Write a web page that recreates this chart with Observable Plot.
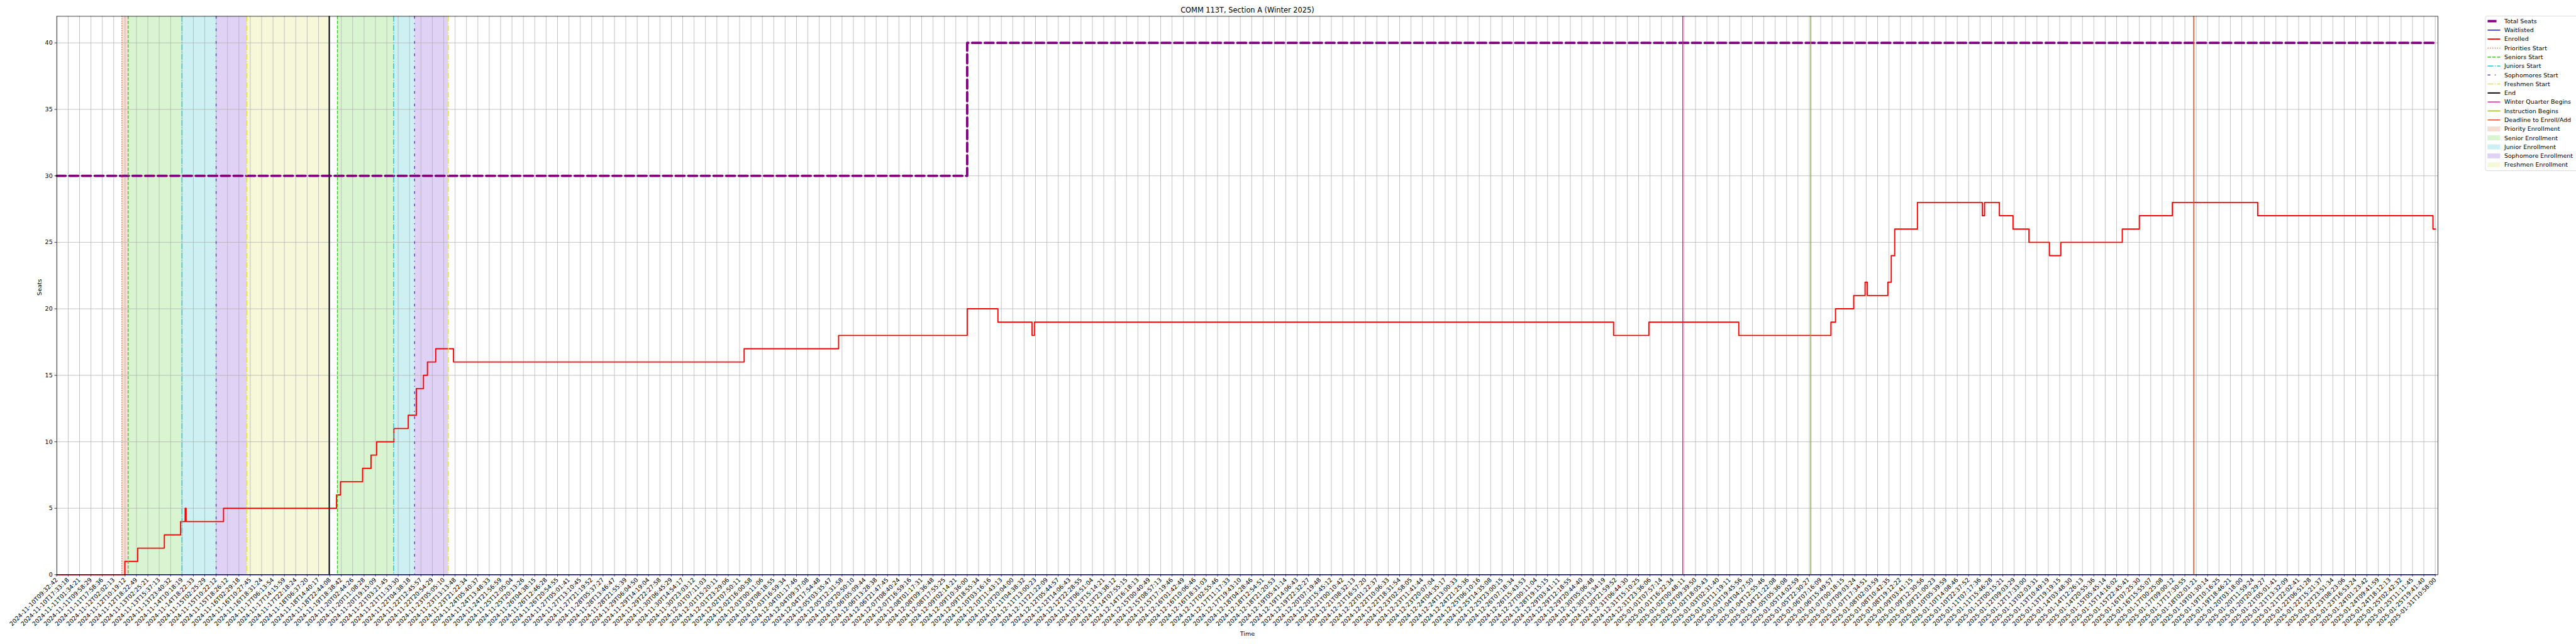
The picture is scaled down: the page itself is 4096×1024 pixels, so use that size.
<!DOCTYPE html>
<html><head><meta charset="utf-8">
<script src="https://cdn.jsdelivr.net/npm/d3@7"></script>
<script src="https://cdn.jsdelivr.net/npm/@observablehq/plot@0.6"></script>
<style>
html,body{margin:0;padding:0;background:#fff;}
#wrap{position:relative;width:4096px;height:1024px;overflow:hidden;font-family:"DejaVu Sans",sans-serif;}
#wrap svg{display:block}
#legend{position:absolute;left:0;top:0;}
</style></head><body><div id="wrap"></div>
<script>
// ---------------- data ----------------
const chartTitle = "COMM 113T, Section A (Winter 2025)";
const tickLabels = [
"2024-11-10T09:32:42","2024-11-10T17:33:18","2024-11-11T01:34:21","2024-11-11T09:58:29","2024-11-11T17:58:36",
"2024-11-12T02:02:13","2024-11-12T10:19:12","2024-11-12T18:22:49","2024-11-13T02:25:21","2024-11-13T15:37:13",
"2024-11-13T23:40:32","2024-11-14T10:18:19","2024-11-14T18:22:33","2024-11-15T02:25:29","2024-11-15T10:22:12",
"2024-11-15T18:26:12","2024-11-16T02:29:18","2024-11-16T10:27:45","2024-11-16T18:31:24","2024-11-17T06:13:54",
"2024-11-17T14:15:59","2024-11-17T22:18:24","2024-11-18T06:37:20","2024-11-18T14:40:17","2024-11-18T22:44:08",
"2024-11-19T18:38:42","2024-11-20T02:44:26","2024-11-20T11:08:28","2024-11-20T19:15:09","2024-11-21T03:21:45",
"2024-11-21T11:33:30","2024-11-22T04:38:18","2024-11-22T12:45:57","2024-11-22T20:54:29","2024-11-23T05:05:10",
"2024-11-23T13:13:48","2024-11-23T21:22:34","2024-11-24T05:40:37","2024-11-24T13:48:33","2024-11-24T21:56:59",
"2024-11-25T12:05:04","2024-11-25T20:13:26","2024-11-26T04:38:15","2024-11-26T12:46:28","2024-11-26T20:54:55",
"2024-11-27T05:01:41","2024-11-27T13:10:45","2024-11-27T21:19:52","2024-11-28T05:37:27","2024-11-28T13:46:47",
"2024-11-28T21:55:39","2024-11-29T06:04:50","2024-11-29T14:19:04","2024-11-29T22:27:58","2024-11-30T06:45:29",
"2024-11-30T14:54:17","2024-11-30T23:03:12","2024-12-01T07:11:03","2024-12-01T15:20:11","2024-12-01T23:29:06",
"2024-12-02T07:50:11","2024-12-02T16:00:58","2024-12-03T00:11:06","2024-12-03T08:18:55","2024-12-03T16:59:34",
"2024-12-04T01:17:46","2024-12-04T09:37:08","2024-12-04T17:54:48","2024-12-05T03:35:47","2024-12-05T12:31:58",
"2024-12-05T20:50:10","2024-12-06T05:09:44","2024-12-06T13:28:38","2024-12-06T21:47:45","2024-12-07T08:40:24",
"2024-12-07T16:59:16","2024-12-08T01:17:31","2024-12-08T09:36:48","2024-12-08T17:55:25","2024-12-09T02:14:21",
"2024-12-09T10:36:00","2024-12-09T18:55:34","2024-12-10T03:16:16","2024-12-10T11:43:13","2024-12-10T20:04:00",
"2024-12-11T04:38:32","2024-12-11T13:00:23","2024-12-11T21:22:09","2024-12-12T05:44:57","2024-12-12T14:06:43",
"2024-12-12T22:28:55","2024-12-13T06:51:04","2024-12-13T15:14:21","2024-12-13T23:38:12","2024-12-14T07:55:15",
"2024-12-14T16:18:13","2024-12-15T00:40:49","2024-12-15T08:57:13","2024-12-15T17:19:46","2024-12-16T01:42:49",
"2024-12-16T10:06:46","2024-12-16T18:31:03","2024-12-17T02:55:46","2024-12-17T11:17:33","2024-12-17T19:43:10",
"2024-12-18T04:28:46","2024-12-18T12:54:51","2024-12-18T21:20:53","2024-12-19T05:41:14","2024-12-19T14:06:43",
"2024-12-19T22:32:27","2024-12-20T07:19:48","2024-12-20T15:45:12","2024-12-21T00:10:42","2024-12-21T08:32:13",
"2024-12-21T16:57:20","2024-12-22T01:22:37","2024-12-22T10:06:33","2024-12-22T18:31:54","2024-12-23T02:58:05",
"2024-12-23T11:41:44","2024-12-23T20:07:04","2024-12-24T04:35:17","2024-12-24T13:00:33","2024-12-24T21:25:36",
"2024-12-25T06:10:16","2024-12-25T14:35:08","2024-12-25T23:00:15","2024-12-26T07:18:34","2024-12-26T15:43:53",
"2024-12-27T00:11:04","2024-12-28T19:15:15","2024-12-29T03:41:11","2024-12-29T12:18:55","2024-12-29T20:44:40",
"2024-12-30T05:06:48","2024-12-30T13:34:19","2024-12-30T21:59:52","2024-12-31T06:44:30","2024-12-31T15:10:25",
"2024-12-31T23:36:06","2025-01-01T07:57:14","2025-01-01T16:22:34","2025-01-02T00:48:11","2025-01-02T09:39:50",
"2025-01-02T18:05:43","2025-01-03T02:31:40","2025-01-03T11:19:11","2025-01-03T19:45:56","2025-01-04T04:27:50",
"2025-01-04T12:55:46","2025-01-04T21:22:08","2025-01-05T05:36:08","2025-01-05T14:02:59","2025-01-05T22:30:27",
"2025-01-06T07:16:09","2025-01-06T15:49:57","2025-01-07T00:18:15","2025-01-07T09:03:24","2025-01-07T17:34:51",
"2025-01-08T02:03:59","2025-01-08T10:42:35","2025-01-08T19:12:22","2025-01-09T03:41:15","2025-01-09T12:30:56",
"2025-01-09T21:00:23","2025-01-10T05:39:59","2025-01-10T14:08:46","2025-01-10T22:37:52","2025-01-11T07:17:36",
"2025-01-11T15:46:28","2025-01-12T00:15:21","2025-01-12T09:03:29","2025-01-12T17:33:00","2025-01-13T02:03:31",
"2025-01-13T10:49:19","2025-01-13T19:19:15","2025-01-14T03:48:30","2025-01-14T12:26:13","2025-01-14T20:55:36",
"2025-01-15T05:45:14","2025-01-15T14:16:02","2025-01-15T22:45:41","2025-01-16T07:25:30","2025-01-16T15:55:07",
"2025-01-17T00:25:08","2025-01-17T09:00:12","2025-01-17T17:30:55","2025-01-18T02:01:21","2025-01-19T01:30:14",
"2025-01-19T10:16:25","2025-01-19T18:46:21","2025-01-20T03:18:00","2025-01-20T11:59:24","2025-01-20T20:29:27",
"2025-01-21T05:01:41","2025-01-21T13:32:09","2025-01-21T22:02:41","2025-01-22T06:51:28","2025-01-22T15:21:37",
"2025-01-22T23:51:34","2025-01-23T08:23:06","2025-01-23T16:53:24","2025-01-24T01:23:42","2025-01-24T09:41:59",
"2025-01-24T18:12:13","2025-01-25T02:42:32","2025-01-25T11:11:45","2025-01-25T19:41:40","2025-01-31T10:58:00"
];
const yTicks = [0, 5, 10, 15, 20, 25, 30, 35, 40];

// x positions are in sample-axis units (tick index = category position)
const enrolledX = [0, 5.98, 7.11, 9.45, 10.88, 11.28, 11.36, 14.65, 24.58, 24.93, 26.87, 27.61, 28.11, 29.62, 30.88,
  31.59, 32.22, 32.57, 33.30, 34.86, 60.4, 68.7, 80.0, 82.7, 85.7, 85.9, 136.8, 139.9, 147.8, 155.9,
  156.3, 157.9, 158.9, 159.1, 160.9, 161.2, 161.5, 163.5, 169.2, 169.4, 170.7, 171.9, 173.3, 175.1, 176.1,
  181.5, 183.0, 185.9, 193.4, 208.8, 209];
const enrolledY = [0, 1, 2, 3, 4, 5, 4, 5, 6, 7, 8, 9, 10, 11, 12,
  14, 15, 16, 17, 16, 17, 18, 20, 19, 18, 19, 18, 19, 18, 19,
  20, 21, 22, 21, 22, 24, 26, 28, 27, 28, 27, 26, 25, 24, 25,
  26, 27, 28, 27, 26, 26];
const seatsX = [0, 80.0, 209];
const seatsY = [30, 40, 40];
const waitX = [0, 209];
const waitY = [0, 0];

const eventName = ["Priorities Start", "Seniors Start", "Juniors Start", "Sophomores Start", "Freshmen Start", "End",
  "Seniors Start", "Juniors Start", "Sophomores Start", "Freshmen Start",
  "Winter Quarter Begins", "Instruction Begins", "Deadline to Enroll/Add"];
const eventX = [5.72, 6.27, 11.0, 14.0, 16.7, 23.94, 24.66, 29.6, 31.44, 34.41, 142.88, 154.13, 187.78];

const spanName = ["Priority Enrollment", "Senior Enrollment", "Junior Enrollment", "Sophomore Enrollment",
  "Freshmen Enrollment", "Senior Enrollment", "Junior Enrollment", "Sophomore Enrollment"];
const spanStart = [5.72, 6.27, 11.0, 14.0, 16.7, 24.66, 29.6, 31.44];
const spanEnd = [6.27, 11.0, 14.0, 16.7, 23.94, 29.6, 31.44, 34.41];

// ---------------- styles ----------------
const S = 0.682;
const W = 4096, H = 1024;
const mL = 89.8, mR = W - 3876, mT = 25.4, mB = H - 913.4;
const fs = 9.5;
const lwEvent = 1.5 * 1.389 * S;
const eventStyle = {
  "Priorities Start": {stroke: "#ee6c30", dash: [1, 1.65].map(d => d * lwEvent).join(",")},
  "Seniors Start": {stroke: "#3cc41e", dash: [3.7, 1.6].map(d => d * lwEvent).join(",")},
  "Juniors Start": {stroke: "#14c8d4", dash: [6.4, 1.6, 1, 1.6].map(d => d * lwEvent).join(",")},
  "Sophomores Start": {stroke: "#6a2bd9", dash: [3, 5, 1, 5].map(d => d * lwEvent).join(",")},
  "Freshmen Start": {stroke: "#e4e42a", dash: [6.4, 1.6, 1, 1.6].map(d => d * lwEvent).join(",")},
  "End": {stroke: "#000000", dash: null, width: 2 * 1.389 * S},
  "Winter Quarter Begins": {stroke: "#e0189a", dash: null},
  "Instruction Begins": {stroke: "#8ab51c", dash: null},
  "Deadline to Enroll/Add": {stroke: "#e0441e", dash: null}
};
const spanColor = {
  "Priority Enrollment": "#f7ddd1",
  "Senior Enrollment": "#d9f4d1",
  "Junior Enrollment": "#cdf0f2",
  "Sophomore Enrollment": "#e0d2f5",
  "Freshmen Enrollment": "#f7f8da"
};
const seatsStyle = {stroke: "#800080", width: 4 * 1.389 * S};
const enrolledStyle = {stroke: "#ff0000", width: 2 * 1.389 * S};
const waitStyle = {stroke: "#0000ff", width: 1.5 * 1.389 * S};
seatsStyle.dash = [3.7, 1.6].map(d => d * seatsStyle.width).join(",");

// ---------------- tables ----------------
const enrolled = enrolledX.map((x, i) => ({x, y: enrolledY[i]}));
const seats = seatsX.map((x, i) => ({x, y: seatsY[i]}));
const wait = waitX.map((x, i) => ({x, y: waitY[i]}));
const events = eventX.map((x, i) => ({x, name: eventName[i]}));
const spans = spanStart.map((x1, i) => ({x1, x2: spanEnd[i], name: spanName[i]}));
const tickIdx = tickLabels.map((d, i) => i);
const xMax = 209.24;

const eventMarks = Object.keys(eventStyle).map(name => {
  const st = eventStyle[name];
  return Plot.ruleX(events.filter(d => d.name === name), {
    x: "x", stroke: st.stroke, strokeWidth: st.width || lwEvent,
    strokeDasharray: st.dash || undefined
  });
});

const chart = Plot.plot({
  width: W, height: H,
  marginLeft: mL, marginRight: mR, marginTop: mT, marginBottom: mB,
  style: {fontFamily: "DejaVu Sans, sans-serif", fontSize: fs + "px", color: "black", background: "white", overflow: "visible"},
  x: {type: "linear", domain: [0, xMax]},
  y: {domain: [0, 42]},
  marks: [
    Plot.rect(spans, {x1: "x1", x2: "x2", fill: d => spanColor[d.name]}),
    Plot.gridX(tickIdx, {stroke: "#b0b0b0", strokeOpacity: 1, strokeWidth: 0.8 * 1.389 * S}),
    Plot.gridY(yTicks, {stroke: "#b0b0b0", strokeOpacity: 1, strokeWidth: 0.8 * 1.389 * S}),
    Plot.line(seats, {x: "x", y: "y", curve: "step-after", stroke: seatsStyle.stroke, strokeWidth: seatsStyle.width, strokeDasharray: seatsStyle.dash}),
    Plot.line(wait, {x: "x", y: "y", stroke: waitStyle.stroke, strokeWidth: waitStyle.width}),
    Plot.line(enrolled, {x: "x", y: "y", curve: "step-after", stroke: enrolledStyle.stroke, strokeWidth: enrolledStyle.width}),
    ...eventMarks,
    Plot.frame({stroke: "black", strokeWidth: 0.8 * 1.389 * S}),
    Plot.axisY(yTicks, {tickSize: 3.3, tickPadding: 3.3, fontSize: fs, label: null, strokeWidth: 0.8 * 1.389 * S}),
    Plot.axisX(tickIdx, {tickFormat: i => tickLabels[i], tickRotate: -45, tickSize: 3.3, tickPadding: 3.3, fontSize: fs, label: null, strokeWidth: 0.8 * 1.389 * S}),
    Plot.text([chartTitle], {frameAnchor: "top", dy: -5.7, lineAnchor: "bottom", text: d => d, fontSize: 11.4}),
    Plot.text(["Time"], {frameAnchor: "bottom", dy: 93.7, lineAnchor: "middle", text: d => d, fontSize: fs}),
    Plot.text(["Seats"], {frameAnchor: "left", dx: -27, rotate: -90, lineAnchor: "middle", text: d => d, fontSize: fs})
  ]
});
const wrap = document.getElementById("wrap");
wrap.appendChild(chart);

// ---------------- legend ----------------
const legendEntries = [
  {label: "Total Seats", kind: "line", stroke: seatsStyle.stroke, width: seatsStyle.width, dash: seatsStyle.dash},
  {label: "Waitlisted", kind: "line", stroke: waitStyle.stroke, width: waitStyle.width},
  {label: "Enrolled", kind: "line", stroke: enrolledStyle.stroke, width: enrolledStyle.width},
  ...["Priorities Start", "Seniors Start", "Juniors Start", "Sophomores Start", "Freshmen Start", "End",
    "Winter Quarter Begins", "Instruction Begins", "Deadline to Enroll/Add"].map(n => ({
      label: n, kind: "line", stroke: eventStyle[n].stroke, width: eventStyle[n].width || lwEvent, dash: eventStyle[n].dash
    })),
  ...Object.keys(spanColor).map(n => ({label: n, kind: "patch", fill: spanColor[n]}))
];
const lg = d3.select(wrap).append("svg").attr("id", "legend").attr("width", W).attr("height", H)
  .style("position", "absolute").style("left", 0).style("top", 0).style("pointer-events", "none");
const bx = 3952, by = 25.5, bh = 246, bw = 160;
lg.append("rect").attr("x", bx).attr("y", by).attr("width", bw).attr("height", bh).attr("rx", 2.5)
  .attr("fill", "white").attr("fill-opacity", 0.8).attr("stroke", "#cccccc").attr("stroke-width", 0.7);
legendEntries.forEach((e, i) => {
  const cy = 33.6 + i * 14.28;
  if (e.kind === "line") {
    const l = lg.append("line").attr("x1", 3955.5).attr("x2", 3975.5).attr("y1", cy).attr("y2", cy)
      .attr("stroke", e.stroke).attr("stroke-width", e.width);
    if (e.dash) l.attr("stroke-dasharray", e.dash);
  } else {
    lg.append("rect").attr("x", 3955.5).attr("y", cy - 3.6).attr("width", 19.5).attr("height", 7.2)
      .attr("fill", e.fill).attr("stroke", e.fill).attr("stroke-width", 0.7);
  }
  lg.append("text").attr("x", 3982).attr("y", cy).attr("dy", "0.35em").attr("font-size", fs)
    .attr("font-family", "DejaVu Sans, sans-serif").attr("fill", "black").text(e.label);
});
</script></body></html>
